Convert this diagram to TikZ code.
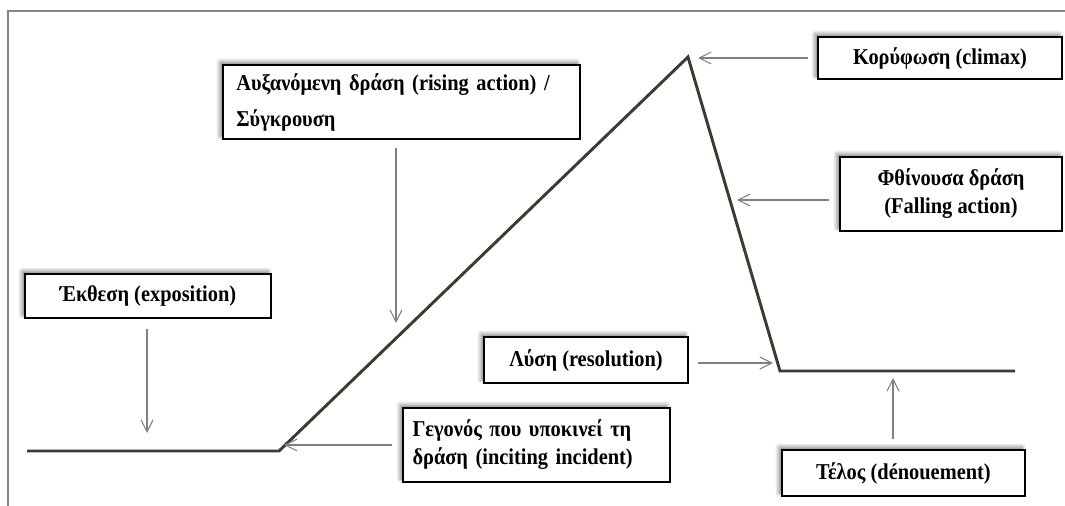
\documentclass[tikz,border=0pt]{standalone}
\usepackage{fontspec}
\setmainfont{Liberation Serif}[FakeStretch=0.9]
\usetikzlibrary{arrows.meta,shadows.blur}
\definecolor{plotline}{HTML}{3C3C2E}
\definecolor{arrgray}{HTML}{808080}
\definecolor{framegray}{HTML}{858585}
\tikzset{
  blk/.style={draw, rectangle, fill=white, line width=1.1pt, align=center, inner sep=0pt, font=\fontsize{17}{21}\selectfont\bfseries, blur shadow={shadow xshift=-2.2pt, shadow yshift=2.2pt, shadow blur radius=3pt, shadow blur steps=8, shadow opacity=50}},
  lblk/.style={blk, align=left, inner xsep=10pt},
  arr/.style={-{Straight Barb[length=9pt,width=9pt]}, arrgray, line width=0.8pt},
  story/.style={plotline, line width=2.2pt, line join=miter},
}
\begin{document}
\begin{tikzpicture}[x=0.75pt, y=-0.75pt]
\useasboundingbox (0,0) rectangle (1065,506);
\draw[framegray, line width=2.2pt] (8,506) -- (8,11) -- (1065,11);

% story line
\coordinate (s0) at (27,451);
\coordinate (s1) at (279,451);
\coordinate (s2) at (688,57);
\coordinate (s3) at (780,371);
\coordinate (s4) at (1015,371);
\draw[story] (s0) -- (s1) -- (s2) -- (s3) -- (s4);

\node[blk, minimum width=184.5pt, minimum height=33pt] (expo) at (148,296) {Έκθεση (exposition)};
\node[lblk, font=\fontsize{17}{27}\selectfont\bfseries, text width=247.75pt, minimum height=55.5pt] (rise) at (401.5,102) {Αυξανόμενη δράση (rising action) /\\Σύγκρουση};
\node[blk, minimum width=183pt, minimum height=31.5pt] (climax) at (940,58) {Κορύφωση (climax)};
\node[blk, minimum width=166.5pt, minimum height=55.5pt] (fall) at (951,194) {Φθίνουσα δράση\\(Falling action)};
\node[blk, minimum width=153pt, minimum height=34.5pt] (res) at (586,360) {Λύση (resolution)};
\node[lblk, inner xsep=7pt, text width=186pt, minimum height=55.5pt] (inc) at (536.5,445) {Γεγονός που υποκινεί τη\\δράση (inciting incident)};
\node[blk, minimum width=182.25pt, minimum height=34.5pt] (denoue) at (903.5,473) {Τέλος (dénouement)};

% arrow tips on the line
\coordinate (tExpo) at (147,433);
\coordinate (tRise) at (396,323);
\coordinate (tClimax) at (698,58);
\coordinate (tFall) at (737,200);
\coordinate (tRes) at (773,363);
\coordinate (tInc) at (284,445);
\coordinate (tEnd) at (893,378);

\draw[arr, shorten <=7.5pt] (expo.south -| tExpo) -- (tExpo);
\draw[arr, shorten <=6pt] (rise.south -| tRise) -- (tRise);
\draw[arr, shorten <=7pt] (climax.west) -- (tClimax);
\draw[arr, shorten <=8pt] (fall.west |- tFall) -- (tFall);
\draw[arr, shorten <=7pt] (res.east |- tRes) -- (tRes);
\draw[arr, shorten <=7.5pt] (inc.west) -- (tInc);
\draw[arr, shorten <=7.5pt] (denoue.north -| tEnd) -- (tEnd);

\end{tikzpicture}
\end{document}
